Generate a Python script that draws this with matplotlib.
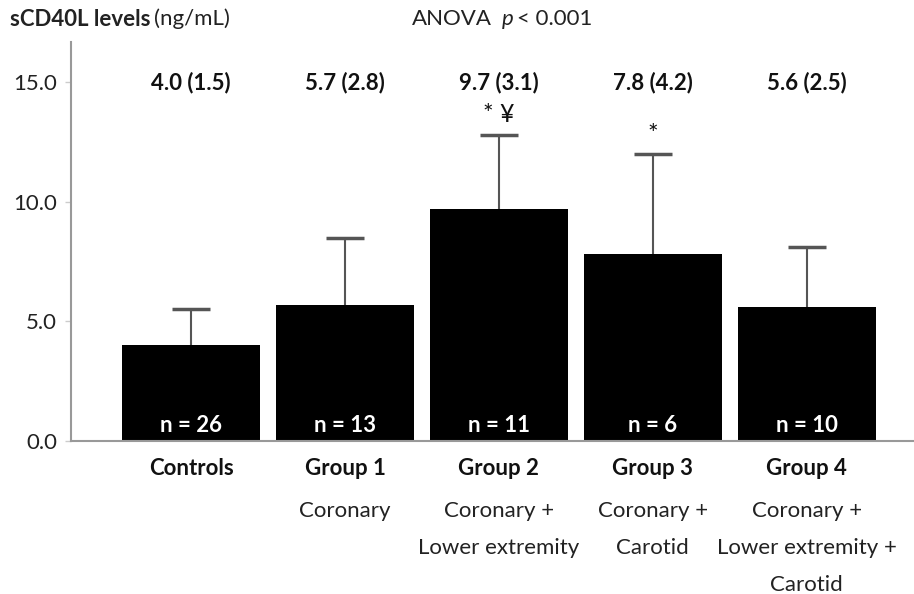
import matplotlib
matplotlib.use("Agg")
import matplotlib.pyplot as plt

plt.rcParams['font.family'] = ['Lato', 'DejaVu Sans']

# data
groups = ["Controls", "Group 1", "Group 2", "Group 3", "Group 4"]
subtitles = ["", "Coronary", "Coronary +\nLower extremity", "Coronary +\nCarotid",
             "Coronary +\nLower extremity +\nCarotid"]
means = [4.0, 5.7, 9.7, 7.8, 5.6]
sds = [1.5, 2.8, 3.1, 4.2, 2.5]
n_counts = [26, 13, 11, 6, 10]
signif = ["", "", "* \u00a5", "*", ""]

FS = 16
fig = plt.figure(figsize=(9.14, 5.94), dpi=100)
ax = fig.add_axes([0.0777, 0.2576, 0.921, 0.6714])

x = list(range(len(groups)))
tops = [m + s for m, s in zip(means, sds)]
ax.bar(x, means, width=0.896, color='black', zorder=2)
# upper-only error bars
ax.vlines(x, means, tops, color='#555555', lw=1.5, zorder=1)
ax.hlines(tops, [i - 0.123 for i in x], [i + 0.123 for i in x], color='#555555', lw=2.5, zorder=1)

ax.set_xlim(-0.78, 4.69)
ax.set_ylim(0, 16.67)
ax.set_yticks([0, 5, 10, 15])
ax.set_yticklabels(["0.0", "5.0", "10.0", "15.0"], fontsize=FS, color='#222222')
ax.tick_params(axis='y', length=4, width=1, color='#cccccc', pad=6)
ax.set_xticks([])

for s in ['top', 'right']:
    ax.spines[s].set_visible(False)
for s in ['left', 'bottom']:
    ax.spines[s].set_color('#999999')
    ax.spines[s].set_linewidth(1.5)

for i in x:
    # mean (sd) at top
    ax.text(i, 15.0, f"{means[i]:.1f} ({sds[i]:.1f})", ha='center', va='center',
            fontsize=FS, fontweight='bold', color='#111111')
    # n inside bar
    ax.text(i, 0.65, f"n = {n_counts[i]}", ha='center', va='center',
            fontsize=FS, fontweight='bold', color='white')
    # significance marks
    if signif[i]:
        ax.text(i, tops[i] + 0.35, signif[i], ha='center', va='bottom',
                fontsize=FS + 2, color='#111111')
    # group names below axis
    ax.text(i, -1.15, groups[i], ha='center', va='center', fontsize=FS,
            fontweight='bold', color='#111111')
    if subtitles[i]:
        ax.text(i, -2.5, subtitles[i], ha='center', va='top', fontsize=FS,
                color='#222222', linespacing=2.07)

# header texts placed one after another
renderer = fig.canvas.get_renderer()
inv = fig.transFigure.inverted()


def put(xpos, s, gap=0.0, **kw):
    t = fig.text(xpos, 0.968, s, fontsize=FS, va='center', color='#222222', **kw)
    bb = t.get_window_extent(renderer)
    return inv.transform((bb.x1, bb.y1))[0] + gap


nx = put(0.011, "sCD40L levels", 0.004, fontweight='bold')
put(nx, "(ng/mL)")
nx = put(0.451, "ANOVA", 0.010)
nx = put(nx, "p", 0.004, style='italic')
put(nx, "< 0.001")

fig.savefig("out.png", dpi=100)
